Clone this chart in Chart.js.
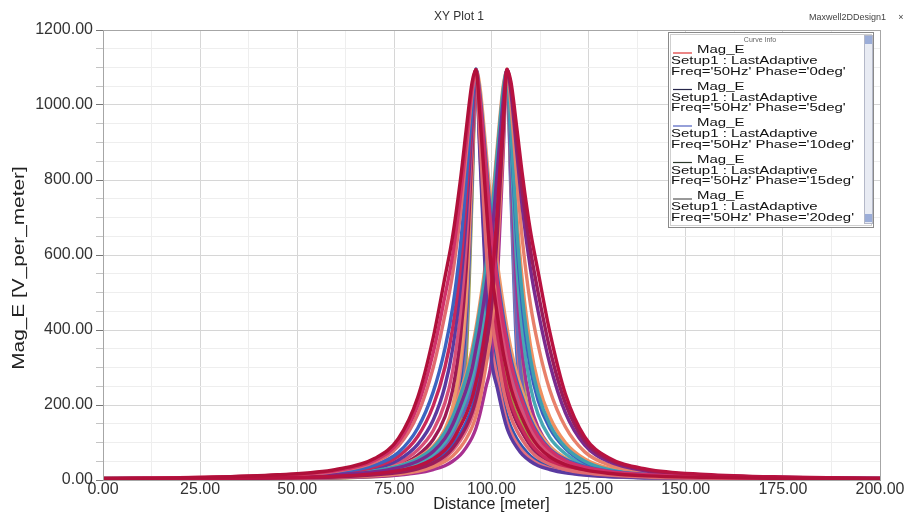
<!DOCTYPE html>
<html>
<head>
<meta charset="utf-8">
<script src="https://cdn.jsdelivr.net/npm/chart.js@4.4.1/dist/chart.umd.min.js"></script>
<style>
  body { margin: 0; background: #fff; }
  #wrap { width: 909px; height: 515px; }
</style>
</head>
<body>
<div id="wrap"><canvas id="myChart" width="909" height="515"></canvas></div>
<script>
// distance along the line (meter), shared by every curve
var distance = [0, 25, 45, 60, 70, 76, 81, 85, 88, 90, 92, 93.5, 95, 96, 97, 98.5, 100,
  101.5, 103, 104, 105, 106.5, 108, 110, 112, 115, 119, 124, 130, 140, 155, 175, 200];

// Mag_E curves whose peak sits near 96 m
var left0 = [4, 7, 14, 28, 58, 110, 220, 380, 540, 650, 800, 935, 1060, 1095, 975, 755, 560, 440, 340, 290, 245, 198, 162, 120, 90, 62, 41, 27, 18, 11, 7, 4, 3];
var left1 = [4, 7, 12, 23, 48, 90, 175, 300, 440, 550, 710, 870, 1030, 1093, 920, 640, 440, 335, 244, 200, 167, 132, 106, 78, 59, 42, 28, 19, 13, 8, 5, 3, 2];
var left2 = [4, 6, 11, 20, 40, 73, 138, 235, 350, 460, 625, 800, 995, 1096, 1030, 860, 680, 545, 438, 378, 323, 264, 217, 162, 122, 83, 55, 36, 24, 15, 9, 5, 4];
var left3 = [3, 5, 9, 16, 30, 53, 95, 160, 250, 350, 515, 700, 950, 1094, 870, 530, 320, 245, 175, 138, 113, 87, 67, 50, 38, 28, 19, 13, 9, 6, 4, 3, 2];
var left4 = [3, 5, 8, 14, 26, 45, 80, 132, 205, 290, 445, 630, 915, 1095, 990, 790, 600, 475, 372, 320, 271, 220, 180, 134, 101, 69, 46, 30, 20, 12, 8, 5, 3];
var left5 = [3, 4, 7, 12, 22, 38, 66, 108, 168, 240, 380, 565, 880, 1092, 940, 680, 480, 370, 276, 230, 193, 154, 125, 92, 70, 49, 32, 22, 15, 9, 6, 4, 3];
var left6 = [3, 4, 6, 10, 18, 31, 53, 86, 135, 195, 320, 500, 850, 1094, 1050, 890, 720, 580, 470, 405, 350, 285, 235, 175, 132, 90, 59, 38, 26, 16, 10, 6, 4];
var left7 = [2, 3, 5, 8, 15, 25, 41, 67, 105, 155, 265, 440, 820, 1091, 900, 600, 400, 300, 212, 170, 141, 110, 87, 64, 49, 35, 23, 16, 11, 7, 4, 3, 2];
var left8 = [2, 3, 4, 7, 12, 19, 31, 50, 80, 120, 215, 385, 790, 1093, 1010, 825, 640, 510, 405, 350, 297, 242, 199, 148, 111, 76, 50, 33, 22, 14, 8, 5, 3];
var left9 = [2, 2, 3, 5, 9, 14, 22, 35, 58, 92, 170, 330, 760, 1095, 960, 720, 520, 405, 308, 260, 219, 176, 144, 106, 80, 56, 37, 25, 17, 10, 6, 4, 3];
var left10 = [4, 7, 13, 25, 53, 100, 198, 340, 490, 600, 755, 900, 1045, 1094, 1020, 842, 660, 528, 420, 364, 310, 253, 208, 155, 116, 80, 52, 34, 23, 14, 8, 5, 3];
var left11 = [3, 6, 10, 18, 35, 63, 116, 198, 300, 405, 570, 750, 972, 1095, 950, 700, 500, 388, 292, 245, 206, 165, 134, 99, 75, 52, 35, 23, 16, 10, 6, 4, 3];
var left12 = [2, 3, 5, 9, 16, 28, 47, 76, 120, 175, 292, 470, 835, 1093, 885, 565, 360, 272, 194, 154, 127, 98, 77, 57, 43, 31, 21, 14, 10, 6, 4, 3, 2];

// Mag_E curves whose peak sits near 104 m
var right0 = [3, 4, 6, 10, 17, 25, 37, 56, 80, 106, 144, 176, 219, 260, 308, 405, 520, 720, 960, 1095, 1062, 940, 810, 665, 555, 395, 230, 115, 60, 29, 15, 8, 5];
var right1 = [3, 5, 8, 14, 22, 33, 50, 76, 111, 148, 199, 242, 297, 350, 405, 510, 640, 825, 1010, 1094, 1034, 875, 720, 565, 450, 310, 180, 93, 50, 24, 12, 7, 4];
var right2 = [2, 3, 4, 7, 11, 16, 23, 35, 49, 64, 87, 110, 141, 170, 212, 300, 400, 600, 900, 1096, 1000, 808, 635, 470, 360, 240, 142, 75, 41, 20, 11, 6, 4];
var right3 = [4, 6, 10, 16, 26, 38, 59, 90, 132, 175, 235, 285, 350, 405, 470, 580, 720, 890, 1050, 1093, 952, 708, 525, 360, 258, 168, 100, 56, 32, 17, 9, 5, 3];
var right4 = [3, 4, 6, 9, 15, 22, 32, 49, 70, 92, 125, 154, 193, 230, 276, 370, 480, 680, 940, 1095, 918, 640, 455, 300, 212, 138, 84, 47, 27, 15, 8, 5, 3];
var right5 = [3, 5, 8, 12, 20, 30, 46, 69, 101, 134, 180, 220, 271, 320, 372, 475, 600, 790, 990, 1092, 882, 575, 390, 250, 175, 113, 70, 40, 23, 13, 7, 4, 3];
var right6 = [2, 3, 4, 6, 9, 13, 19, 28, 38, 50, 67, 87, 113, 138, 175, 245, 320, 530, 870, 1094, 852, 510, 330, 203, 140, 90, 56, 33, 19, 11, 6, 4, 3];
var right7 = [4, 5, 9, 15, 24, 36, 55, 83, 122, 162, 217, 264, 323, 378, 438, 545, 680, 860, 1030, 1091, 822, 450, 275, 162, 110, 70, 43, 26, 16, 8, 5, 3, 2];
var right8 = [2, 3, 5, 8, 13, 19, 28, 42, 59, 78, 106, 132, 167, 200, 244, 335, 440, 640, 920, 1093, 792, 395, 222, 125, 84, 52, 32, 20, 12, 7, 4, 3, 2];
var right9 = [3, 4, 7, 11, 18, 27, 41, 62, 90, 120, 162, 198, 245, 290, 340, 440, 560, 755, 975, 1095, 762, 338, 175, 95, 60, 36, 23, 15, 9, 5, 3, 2, 2];
var right10 = [2, 3, 5, 8, 14, 20, 30, 45, 64, 85, 115, 143, 180, 215, 260, 352, 460, 660, 930, 1094, 1048, 905, 765, 615, 500, 350, 205, 104, 55, 26, 13, 7, 4];
var right11 = [4, 6, 9, 15, 25, 37, 57, 86, 127, 168, 226, 274, 336, 392, 454, 562, 700, 875, 1040, 1093, 935, 670, 485, 325, 230, 148, 88, 50, 28, 15, 8, 5, 3];
var right12 = [3, 5, 7, 12, 19, 28, 43, 65, 95, 127, 171, 209, 258, 305, 356, 458, 580, 772, 982, 1092, 806, 420, 248, 143, 97, 61, 37, 23, 14, 8, 4, 3, 2];

var curves = [left0, right0, left10, right10, left1, right1, left2, right2, left11, right11,
  left3, right3, left4, right4, left5, right5, left6, right6, left12, right12,
  left7, right7, left8, right8, left9, right9];

var curveColors = ["#b0103a", "#b81240", "#d0306a", "#9a1c5a", "#e06a70", "#7a2a8e",
  "#3c64c0", "#e8806a", "#c8285a", "#3f9fb0", "#5a3aa0", "#f09060", "#d85078", "#3a5cc0",
  "#9c1a55", "#48a8b4", "#ee9a6a", "#a83090", "#e07080", "#6a68b8", "#2f56b0", "#b8b050",
  "#7a7ab0", "#e06a80", "#a0a040", "#4a70c8"];

// legend (first entries of the curve list)
var legendPhases = ["0deg", "5deg", "10deg", "15deg", "20deg"];
var legendColors = ["#e03434", "#26264a", "#5060c0", "#2c3a2c", "#555555"];

var yTicksMajor = 200;
var xTicksMajor = 25;

var datasets = curves.map(function (vals, i) {
  return {
    label: "Mag_E " + i,
    data: vals.map(function (v, j) { return { x: distance[j], y: v }; }),
    borderColor: curveColors[i],
    borderWidth: 3.4,
    pointRadius: 0,
    fill: false,
    cubicInterpolationMode: "monotone",
  };
});

var fontFam = "'Liberation Sans', Arial, sans-serif";

// draws the header texts, y title, frame and the Curve Info box
var decor = {
  id: "decor",
  afterDraw: function (chart) {
    var ctx = chart.ctx;
    var a = chart.chartArea;
    ctx.save();

    ctx.strokeStyle = "#a6a6a6";
    ctx.lineWidth = 1;
    ctx.strokeRect(a.left + 0.5, a.top + 0.5, a.right - a.left, a.bottom - a.top);

    ctx.fillStyle = "#333";
    ctx.textBaseline = "middle";
    ctx.textAlign = "center";
    ctx.font = "12px " + fontFam;
    ctx.fillText("XY Plot 1", 459, 17);

    ctx.textAlign = "right";
    ctx.font = "9px " + fontFam;
    ctx.fillStyle = "#444";
    ctx.fillText("Maxwell2DDesign1", 886, 18);
    ctx.textAlign = "center";
    ctx.fillText("\u00d7", 901, 18);

    // y axis title
    ctx.save();
    ctx.translate(20, 268);
    ctx.rotate(-Math.PI / 2);
    ctx.scale(1.3, 1);
    ctx.font = "16px " + fontFam;
    ctx.fillStyle = "#222";
    ctx.textAlign = "center";
    ctx.fillText("Mag_E [V_per_meter]", 0, 0);
    ctx.restore();

    // Curve Info box
    var lx = 668, ly = 32, lw = 205, lh = 195;
    ctx.fillStyle = "#fff";
    ctx.fillRect(lx, ly, lw, lh);
    ctx.strokeStyle = "#8a8a8a";
    ctx.strokeRect(lx + 0.5, ly + 0.5, lw, lh);
    ctx.strokeStyle = "#cfcfcf";
    ctx.strokeRect(lx + 2.5, ly + 2.5, lw - 4, lh - 4);

    ctx.font = "7px " + fontFam;
    ctx.fillStyle = "#666";
    ctx.textAlign = "center";
    ctx.fillText("Curve Info", 760, 40);

    // scroll bar
    ctx.fillStyle = "#e8ebf3";
    ctx.fillRect(864, 35, 8, 188);
    ctx.strokeStyle = "#b4b8c8";
    ctx.strokeRect(864.5, 35.5, 8, 188);
    ctx.fillStyle = "#9badd8";
    ctx.fillRect(865, 36, 7, 8);
    ctx.fillRect(865, 214, 7, 8);

    ctx.textAlign = "left";
    legendPhases.forEach(function (ph, i) {
      var y0 = 50 + 36.5 * i;
      ctx.strokeStyle = legendColors[i];
      ctx.lineWidth = 1.2;
      ctx.beginPath();
      ctx.moveTo(673, y0 + 3);
      ctx.lineTo(692, y0 + 3);
      ctx.stroke();
      ctx.fillStyle = "#111";
      ctx.font = "14px " + fontFam;
      var lines = [["Mag_E", 697, y0], ["Setup1 : LastAdaptive", 671, y0 + 11],
        ["Freq='50Hz' Phase='" + ph + "'", 671, y0 + 21.5]];
      lines.forEach(function (t) {
        ctx.save();
        ctx.translate(t[1], t[2]);
        ctx.scale(1.07, 0.8);
        ctx.fillText(t[0], 0, 0);
        ctx.restore();
      });
    });

    ctx.restore();
  },
};

var config = {
  type: "line",
  data: { datasets: datasets },
  options: {
    responsive: false,
    animation: false,
    parsing: false,
    layout: { padding: { top: 30, right: 29, left: 0, bottom: 0 } },
    plugins: { legend: { display: false }, tooltip: { enabled: false }, title: { display: false } },
    scales: {
      x: {
        type: "linear",
        min: 0,
        max: 200,
        afterFit: function (s) { s.height = 35; },
        border: { color: "#9a9a9a" },
        grid: {
          drawTicks: false,
          color: function (c) { return c.tick && c.tick.value % xTicksMajor === 0 ? "#d6d6d6" : "#eeeeee"; },
        },
        ticks: {
          stepSize: 12.5,
          autoSkip: false,
          maxRotation: 0,
          padding: 0,
          color: "#333",
          font: { family: fontFam, size: 16 },
          callback: function (v) { return v % xTicksMajor === 0 ? v.toFixed(2) : ""; },
        },
        title: {
          display: true,
          text: "Distance [meter]",
          color: "#222",
          font: { family: fontFam, size: 16 },
          padding: { top: 0, bottom: 1 },
        },
      },
      y: {
        min: 0,
        max: 1200,
        afterFit: function (s) { s.width = 103; },
        border: { color: "#9a9a9a" },
        grid: {
          tickLength: 7,
          color: function (c) { return c.tick && c.tick.value % yTicksMajor === 0 ? "#d6d6d6" : "#eeeeee"; },
          tickColor: function (c) { return c.tick && c.tick.value % yTicksMajor === 0 ? "#777" : "#c4c4c4"; },
        },
        ticks: {
          stepSize: 50,
          autoSkip: false,
          padding: 3,
          color: "#333",
          font: { family: fontFam, size: 16 },
          callback: function (v) { return v % yTicksMajor === 0 ? v.toFixed(2) : ""; },
        },
      },
    },
  },
  plugins: [decor],
};

var myChart = new Chart(document.getElementById("myChart"), config);
</script>
</body>
</html>
